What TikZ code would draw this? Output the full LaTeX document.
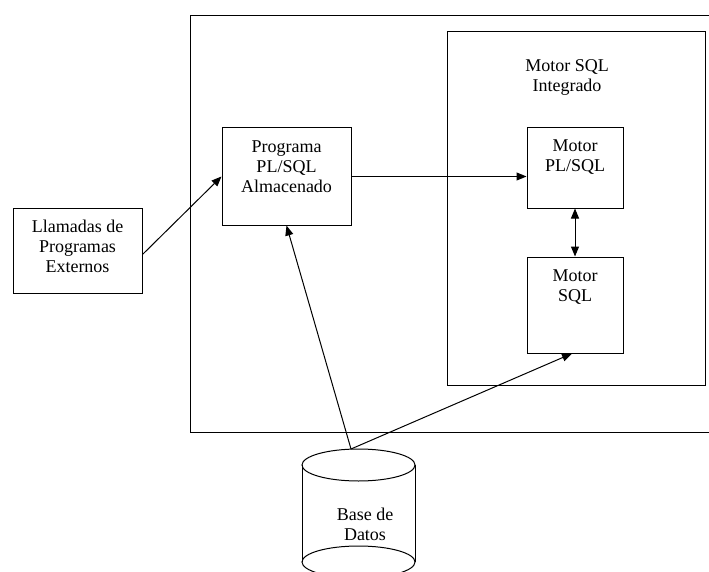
\documentclass[tikz,border=0pt]{standalone}
\usepackage{fontspec}
\setmainfont{Liberation Serif}
\usetikzlibrary{arrows.meta}

\tikzset{
  bloque/.style={draw=black, line width=1pt, fill=white, minimum width=96, minimum height=80},
  texto/.style={align=center, inner sep=0pt, anchor=north, font=\fontsize{18}{20}\selectfont},
  flecha/.style={line width=1pt, -{Triangle[length=10pt,width=8pt]}},
  dflecha/.style={line width=1pt, {Triangle[length=10pt,width=8pt]}-{Triangle[length=10pt,width=8pt]}}
}

\begin{document}
\begin{tikzpicture}[x=1pt, y=-1pt]
    \useasboundingbox (0,0) rectangle (709,572);
    \clip (0,0) rectangle (709,572);

    % contenedores
    \node[bloque, minimum width=530, minimum height=416] (sistema) at (455,224) {};
    \node[bloque, minimum width=258, minimum height=353,
      label={[texto, xshift=-9pt, yshift=-28pt]north:Motor SQL\\Integrado}] (motor) at (576,208.5) {};

    % bloques
    \node[bloque, minimum width=129, minimum height=85,
      label={[texto, yshift=-12pt]north:Llamadas de\\Programas\\Externos}] (llamadas) at (77.5,250.5) {};
    \node[bloque, minimum width=129, minimum height=97,
      label={[texto, yshift=-13pt]north:Programa\\PL/SQL\\Almacenado}] (programa) at (286.5,176.5) {};
    \node[bloque, minimum height=80,
      label={[texto, yshift=-12pt]north:Motor\\PL/SQL}] (motorpl) at (575,168) {};
    \node[bloque, minimum height=96,
      label={[texto, yshift=-13pt]north:Motor\\SQL}] (motorsql) at (575,305) {};

    % base de datos
    \draw[line width=1pt] (302,465) -- (302,562);
    \draw[line width=1pt] (415,465) -- (415,562);
    \draw[line width=1pt] (358.5,465) ellipse [x radius=56.5pt, y radius=16pt];
    \draw[line width=1pt] (358.5,562) ellipse [x radius=56.5pt, y radius=16pt];
    \node[texto] (datos) at (365,508) {Base de\\Datos};
    \coordinate (bdtope) at (351,449);

    % flechas
    \draw[flecha] ([yshift=-4pt]llamadas.east) -- (programa.west);
    \draw[flecha] (programa.east) -- (programa.east -| motorpl.west);
    \draw[dflecha] (motorpl.south) -- (motorsql.south |- motorsql.north);
    \draw[flecha] (bdtope) -- (programa.south);
    \draw[flecha] (bdtope) -- ([xshift=-3pt]motorsql.south);
\end{tikzpicture}
\end{document}
